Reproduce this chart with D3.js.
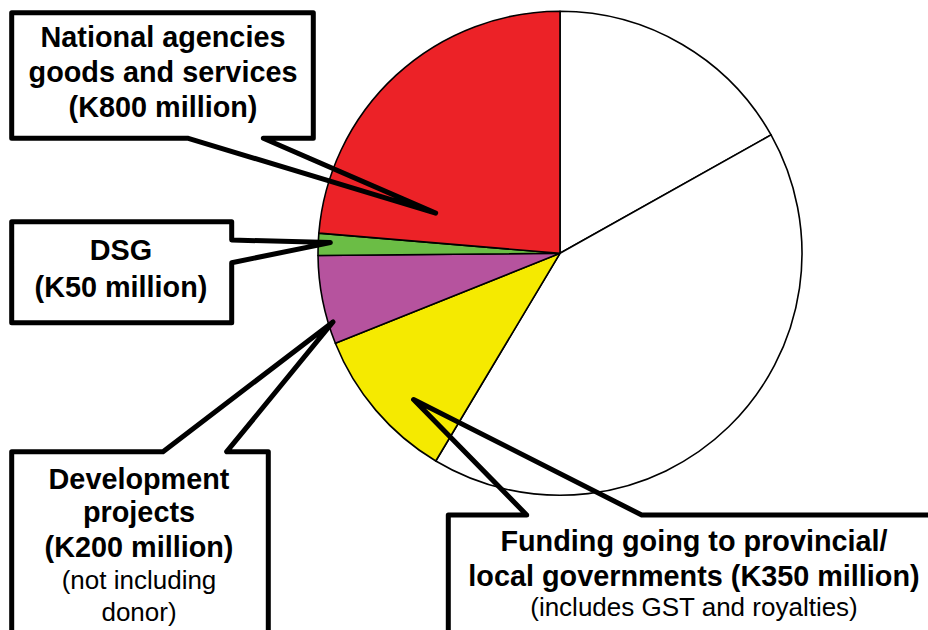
<!DOCTYPE html>
<html>
<head>
<meta charset="utf-8">
<script src="https://cdn.jsdelivr.net/npm/d3@7"></script>
<style>
  html, body { margin: 0; padding: 0; background: #ffffff; }
  svg { display: block; }
  text { font-family: "Liberation Sans", Arial, Helvetica, sans-serif; fill: #000; }
</style>
</head>
<body>
<svg id="chart" width="928" height="630"></svg>
<script>
// ---- data ----
const sliceNames = [
  "Unlabelled slice A",
  "Unlabelled slice B",
  "Funding going to provincial/local governments",
  "Development projects",
  "DSG",
  "National agencies goods and services"
];
const sliceValues = [570, 1410, 350, 200, 50, 800]; // K million
const sliceColors = ["#ffffff", "#ffffff", "#f5ea00", "#b6539e", "#6bbd45", "#ec2227"];

const labelSlice = [5, 4, 3, 2];
const labelBold = [
  ["National agencies", "goods and services", "(K800 million)"],
  ["DSG", "(K50 million)"],
  ["Development", "projects", "(K200 million)"],
  ["Funding going to provincial/", "local governments (K350 million)"]
];
const labelNote = [
  [],
  [],
  ["(not including", "donor)"],
  ["(includes GST and royalties)"]
];

// ---- layout (annotation geometry) ----
const W = 928, H = 630;
const cx = 560, cy = 253.3, R = 242;
const callouts = [
  { x0: 11.7, y0: 12.7, x1: 313.3, y1: 138.3, side: "bottom", a1: 188.3, a2: 263.3, tipF: 0.154, tipR: 0.54,
    tx: 163, bold: [47, 82, 117], note: [] },
  { x0: 11.7, y0: 221.7, x1: 231.7, y1: 322.7, side: "right", a1: 240, a2: 262.7, tipF: 0.6, tipR: 0.95,
    tx: 121, bold: [260, 296.5], note: [] },
  { x0: 11.7, y0: 451.7, x1: 268.3, y1: 720, side: "top", a1: 163, a2: 226.7, tipF: 0.235, tipR: 0.98,
    tx: 139, bold: [488.5, 522, 556.5], note: [589, 620.5] },
  { x0: 448.3, y0: 515, x1: 1100, y1: 720, side: "top", a1: 526.7, a2: 641.7, tipF: 0.38, tipR: 0.855,
    tx: 694, bold: [551, 586], note: [616] }
];

const svg = d3.select("#chart");
svg.append("rect").attr("width", W).attr("height", H).attr("fill", "#fff");

const pie = d3.pie().sort(null).value(d => d).startAngle(0).endAngle(2 * Math.PI);
const arcs = pie(sliceValues);
const arc = d3.arc().innerRadius(0).outerRadius(R);

const g = svg.append("g").attr("transform", `translate(${cx},${cy})`);
g.selectAll("path.slice")
  .data(arcs)
  .join("path")
  .attr("class", "slice")
  .attr("d", arc)
  .attr("fill", (d, i) => sliceColors[i])
  .attr("stroke", "#000")
  .attr("stroke-width", 1.6)
  .attr("stroke-linejoin", "round");

// ---- callouts ----
function tipPoint(a, f, rf) {
  const ang = a.startAngle + f * (a.endAngle - a.startAngle);
  return [cx + Math.sin(ang) * R * rf, cy - Math.cos(ang) * R * rf];
}

const cg = svg.append("g");
callouts.forEach((c, k) => {
  const a = arcs[labelSlice[k]];
  const t = tipPoint(a, c.tipF, c.tipR);
  const p = d3.path();
  if (c.side === "bottom") {
    p.moveTo(c.x0, c.y0); p.lineTo(c.x1, c.y0); p.lineTo(c.x1, c.y1);
    p.lineTo(c.a2, c.y1); p.lineTo(t[0], t[1]); p.lineTo(c.a1, c.y1);
    p.lineTo(c.x0, c.y1); p.closePath();
  } else if (c.side === "right") {
    p.moveTo(c.x0, c.y0); p.lineTo(c.x1, c.y0); p.lineTo(c.x1, c.a1);
    p.lineTo(t[0], t[1]); p.lineTo(c.x1, c.a2); p.lineTo(c.x1, c.y1);
    p.lineTo(c.x0, c.y1); p.closePath();
  } else {
    p.moveTo(c.x0, c.y0); p.lineTo(c.a1, c.y0); p.lineTo(t[0], t[1]);
    p.lineTo(c.a2, c.y0); p.lineTo(c.x1, c.y0); p.lineTo(c.x1, c.y1);
    p.lineTo(c.x0, c.y1); p.closePath();
  }
  cg.append("rect")
    .attr("x", c.x0).attr("y", c.y0)
    .attr("width", c.x1 - c.x0).attr("height", c.y1 - c.y0)
    .attr("fill", "#fff");
  cg.append("path")
    .attr("d", p.toString())
    .attr("fill", "none")
    .attr("stroke", "#000")
    .attr("stroke-width", 5)
    .attr("stroke-linejoin", "round")
    .attr("stroke-linecap", "round");

  labelBold[k].forEach((s, j) => {
    cg.append("text")
      .attr("x", c.tx).attr("y", c.bold[j])
      .attr("text-anchor", "middle")
      .attr("font-weight", "bold")
      .attr("font-size", 28.8)
      .text(s);
  });
  labelNote[k].forEach((s, j) => {
    cg.append("text")
      .attr("x", c.tx).attr("y", c.note[j])
      .attr("text-anchor", "middle")
      .attr("font-size", 26)
      .text(s);
  });
});
</script>
</body>
</html>
